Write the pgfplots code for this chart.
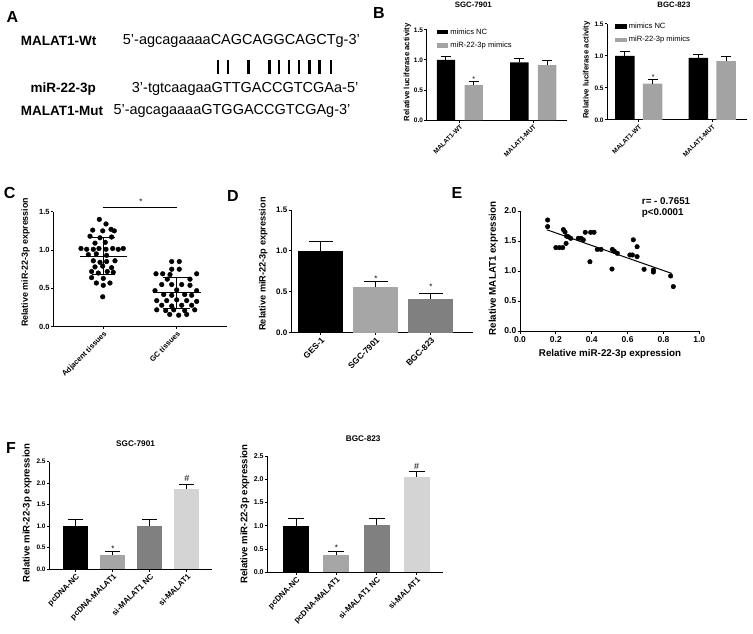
\documentclass[border=0pt]{standalone}
\usepackage{pgfplots}
\pgfplotsset{compat=1.18}
\usepackage{fontspec}
\setmainfont{Liberation Sans}
\newcommand{\fs}[1]{\fontsize{#1}{#1}\selectfont}
\definecolor{gA}{HTML}{A6A6A6}
\definecolor{gB}{HTML}{808080}
\definecolor{gC}{HTML}{D4D4D4}
\definecolor{gL}{HTML}{A3A3A3}
\pgfplotsset{
  every axis title shift=0pt,
  prism/.style={
    scale only axis, axis x line*=bottom, axis y line*=left,
    axis line style={-, line width=1pt, black},
    every tick/.style={black, line width=1pt}, tick align=outside,
    major tick length=2.5pt, ymin=0, clip=false,
    yticklabel style={inner sep=1pt},
  },
  ebar/.style={error bars/.cd, y dir=plus, y explicit,
    error bar style={draw=black, line width=1pt},
    error mark options={draw=black, line width=1pt, rotate=90, mark size=#1}},
}
\begin{document}
\begin{tikzpicture}
\useasboundingbox (0,0) rectangle (753pt,-634pt);
% ---------- panel letters ----------
\node[font=\bfseries\fs{16}] at (12.5pt,-16.7pt) {A};
\node[font=\bfseries\fs{16}] at (379pt,-12.5pt) {B};
\node[font=\bfseries\fs{16}] at (9.7pt,-193pt) {C};
\node[font=\bfseries\fs{16}] at (233pt,-196pt) {D};
\node[font=\bfseries\fs{16}] at (457pt,-193pt) {E};
\node[font=\bfseries\fs{16}] at (11pt,-447.5pt) {F};
% ---------- panel A ----------
\node[anchor=west, font=\bfseries\fs{13.5}, inner sep=0pt] at (20.7pt,-40.7pt) {MALAT1-Wt};
\node[anchor=west, font=\fs{14.5}, inner sep=0pt] at (122.7pt,-40.7pt) {5'-agcagaaaaCAGCAGGCAGCTg-3'};
\node[font=\bfseries\fs{13.5}, inner sep=0pt] at (63.3pt,-89.3pt) {miR-22-3p};
\node[anchor=west, font=\fs{14.5}, inner sep=0pt] at (131.7pt,-89.3pt) {3'-tgtcaagaaGTTGACCGTCGAa-5'};
\node[anchor=west, font=\bfseries\fs{13.5}, inner sep=0pt] at (20.7pt,-110.7pt) {MALAT1-Mut};
\node[anchor=west, font=\fs{14.5}, inner sep=0pt] at (113.3pt,-110.7pt) {5'-agcagaaaaGTGGACCGTCGAg-3'};
\foreach \bx in {217.7,227.7,248.3,269.3,279,289,299,309.3,319.3,331}{
  \draw[line width=2.4pt] (\bx pt,-60pt) -- (\bx pt,-74pt);
}
% ---------- panel B left ----------
\begin{axis}[prism, at={(426.7pt,-120pt)}, anchor=south west,
  width=140pt, height=90pt, xmin=0.549, xmax=2.456, ymax=1.5,
  ytick={0,0.5,1,1.5}, yticklabels={0.0,0.5,1.0,1.5},
  xtick={1,2}, xticklabels={MALAT1-WT,MALAT1-MUT},
  yticklabel style={font=\bfseries\fs{6.5}},
  xticklabel style={font=\bfseries\fs{6.5}, rotate=45, anchor=north east, inner sep=1pt},
  ylabel={Relative luciferase activity},
  ylabel style={font=\bfseries\fs{7.8}, at={(axis description cs:-0.139,0.53)}, anchor=center},
  title={SGC-7901}, title style={font=\bfseries\fs{7.8}, at={(axis description cs:0.333,1.278)}, anchor=center},
  legend style={at={(axis description cs:0.071,1.04)}, anchor=north west, draw=none, fill=none,
     font=\fs{7.6}, row sep=2.5pt, inner sep=0pt, legend cell align=left},
  legend image code/.code={\fill[#1] (0pt,-2.2pt) rectangle (11.6pt,2.2pt);},
]
\addplot[ybar, fill=black, draw=none, bar width=18.3pt, bar shift=0pt, ebar=5pt]
  coordinates {(0.811,1.00) +- (0,0.065) (1.811,0.96) +- (0,0.06)};
\addplot[ybar, fill=gL, draw=none, bar width=18.3pt, bar shift=0pt, ebar=5pt]
  coordinates {(1.189,0.58) +- (0,0.065) (2.189,0.915) +- (0,0.07)};
\legend{mimics NC, miR-22-3p mimics}
\node[font=\fs{7}] at (axis cs:1.189,0.68) {*};
\end{axis}
% ---------- panel B right ----------
\begin{axis}[prism, at={(607.3pt,-120pt)}, anchor=south west,
  width=139.4pt, height=96pt, xmin=0.571, xmax=2.47, ymax=1.5,
  ytick={0,0.5,1,1.5}, yticklabels={0.0,0.5,1.0,1.5},
  xtick={1,2}, xticklabels={MALAT1-WT,MALAT1-MUT},
  yticklabel style={font=\bfseries\fs{6.5}},
  xticklabel style={font=\bfseries\fs{6.5}, rotate=45, anchor=north east, inner sep=1pt},
  ylabel={Relative luciferase activity},
  ylabel style={font=\bfseries\fs{7.8}, at={(axis description cs:-0.148,0.52)}, anchor=center},
  title={BGC-823}, title style={font=\bfseries\fs{7.8}, at={(axis description cs:0.478,1.198)}, anchor=center},
  legend style={at={(axis description cs:0.055,1.034)}, anchor=north west, draw=none, fill=none,
     font=\fs{7.6}, row sep=2.5pt, inner sep=0pt, legend cell align=left},
  legend image code/.code={\fill[#1] (0pt,-2.2pt) rectangle (11.6pt,2.2pt);},
]
\addplot[ybar, fill=black, draw=none, bar width=19.5pt, bar shift=0pt, ebar=5pt]
  coordinates {(0.812,1.00) +- (0,0.07) (1.812,0.97) +- (0,0.055)};
\addplot[ybar, fill=gL, draw=none, bar width=19.5pt, bar shift=0pt, ebar=5pt]
  coordinates {(1.188,0.57) +- (0,0.055) (2.188,0.92) +- (0,0.07)};
\legend{mimics NC, miR-22-3p mimics}
\node[font=\fs{7}] at (axis cs:1.198,0.67) {*};
\end{axis}
% ---------- panel C ----------
\begin{axis}[prism, at={(53.3pt,-326.7pt)}, anchor=south west,
  width=173.4pt, height=115pt, xmin=0.319, xmax=2.681, ymax=1.5,
  ytick={0,0.5,1,1.5}, yticklabels={0.0,0.5,1.0,1.5},
  xtick={1,2}, xticklabels={Adjacent tissues,GC tissues},
  yticklabel style={font=\bfseries\fs{7.5}},
  xticklabel style={font=\bfseries\fs{7.5}, rotate=45, anchor=north east, inner sep=1pt},
  ylabel={Relative miR-22-3p expression},
  ylabel style={font=\bfseries\fs{8.9}, at={(axis description cs:-0.16,0.56)}, anchor=center},
]
\addplot[only marks, mark=*, mark size=2.35pt, black] table {
0.946 1.40
1.037 1.34
0.856 1.26
0.992 1.25
1.105 1.27
1.150 1.25
0.819 1.18
0.955 1.16
1.113 1.17
0.887 1.09
1.027 1.10
0.696 1.02
0.774 1.01
0.864 1.01
0.941 1.02
1.037 1.01
1.128 1.02
1.204 1.01
1.272 1.02
0.796 0.94
0.905 0.95
1.045 0.93
0.864 0.86
0.955 0.84
1.045 0.85
1.159 0.86
0.887 0.78
0.992 0.79
1.113 0.77
0.841 0.72
0.932 0.70
1.054 0.72
1.136 0.71
0.841 0.64
1.000 0.63
0.905 0.57
1.091 0.57
1.000 0.54
0.992 0.39
};
\addplot[only marks, mark=*, mark size=2.35pt, black] table {
1.932 0.85
2.035 0.85
1.932 0.75
2.035 0.75
1.718 0.69
1.809 0.69
1.909 0.68
2.272 0.69
1.872 0.62
2.181 0.62
1.796 0.55
1.932 0.55
2.068 0.55
2.181 0.54
1.704 0.47
2.000 0.48
2.272 0.47
1.823 0.42
1.932 0.41
2.109 0.42
2.204 0.41
1.728 0.34
1.864 0.34
2.000 0.35
2.136 0.34
2.272 0.33
1.796 0.28
1.932 0.27
2.068 0.28
2.204 0.28
1.728 0.22
1.850 0.21
1.959 0.22
2.109 0.21
2.245 0.22
1.905 0.16
2.027 0.15
2.136 0.16
};
\addplot[black, line width=1pt] coordinates {(0.682,0.92) (1.318,0.92)};
\addplot[black, line width=1pt] coordinates {(1,0.68) (1,1.16)};
\addplot[black, line width=1pt] coordinates {(0.842,1.16) (1.159,1.16)};
\addplot[black, line width=1pt] coordinates {(0.842,0.68) (1.159,0.68)};
\addplot[black, line width=1pt] coordinates {(1.673,0.44) (2.327,0.44)};
\addplot[black, line width=1pt] coordinates {(2,0.24) (2,0.64)};
\addplot[black, line width=1pt] coordinates {(1.81,0.64) (2.18,0.64)};
\addplot[black, line width=1pt] coordinates {(1.81,0.24) (2.18,0.24)};
\addplot[black, line width=1pt] coordinates {(0.99,1.557) (2.01,1.557)};
\node[font=\fs{8}] at (axis cs:1.514,1.63) {*};
\end{axis}
% ---------- panel D ----------
\begin{axis}[prism, at={(291pt,-332.7pt)}, anchor=south west,
  width=182.3pt, height=122.7pt, xmin=0.458, xmax=3.772, ymax=1.5,
  ytick={0,0.5,1,1.5}, yticklabels={0.0,0.5,1.0,1.5},
  xtick={1,2,3}, xticklabels={GES-1,SGC-7901,BGC-823},
  yticklabel style={font=\bfseries\fs{8}},
  xticklabel style={font=\bfseries\fs{8.5}, rotate=45, anchor=north east, inner sep=1pt},
  ylabel={Relative miR-22-3p expression},
  ylabel style={font=\bfseries\fs{9.2}, at={(axis description cs:-0.152,0.56)}, anchor=center},
]
\addplot[ybar, fill=black, draw=none, bar width=45pt, bar shift=0pt, ebar=12pt]
  coordinates {(1,1.00) +- (0,0.12)};
\addplot[ybar, fill=gA, draw=none, bar width=45pt, bar shift=0pt, ebar=12pt]
  coordinates {(2,0.555) +- (0,0.07)};
\addplot[ybar, fill=gB, draw=none, bar width=45pt, bar shift=0pt, ebar=12pt]
  coordinates {(3,0.41) +- (0,0.07)};
\node[font=\fs{8}] at (axis cs:2,0.66) {*};
\node[font=\fs{8}] at (axis cs:3,0.56) {*};
\end{axis}
% ---------- panel E ----------
\begin{axis}[prism, at={(520pt,-331pt)}, anchor=south west,
  width=179.3pt, height=120pt, xmin=0, xmax=1, ymax=2,
  ytick={0,0.5,1,1.5,2}, yticklabels={0.0,0.5,1.0,1.5,2.0},
  xtick={0,0.2,0.4,0.6,0.8,1}, xticklabels={0.0,0.2,0.4,0.6,0.8,1.0},
  yticklabel style={font=\bfseries\fs{8.5}},
  xticklabel style={font=\bfseries\fs{8.5}},
  ylabel={Relative MALAT1 expression},
  ylabel style={font=\bfseries\fs{9.8}, at={(axis description cs:-0.149,0.52)}, anchor=center},
  xlabel={Relative miR-22-3p expression},
  xlabel style={font=\bfseries\fs{9.8}, at={(axis description cs:0.502,-0.19)}, anchor=center},
]
\addplot[only marks, mark=*, mark size=2.3pt, black] table {
0.154 1.85
0.154 1.74
0.242 1.69
0.251 1.65
0.260 1.58
0.270 1.57
0.283 1.545
0.200 1.39
0.219 1.39
0.238 1.39
0.257 1.46
0.325 1.545
0.340 1.545
0.353 1.52
0.364 1.645
0.394 1.645
0.413 1.645
0.431 1.36
0.452 1.36
0.390 1.155
0.515 1.36
0.526 1.33
0.543 1.295
0.513 1.033
0.613 1.267
0.627 1.267
0.632 1.52
0.653 1.405
0.653 1.24
0.692 1.028
0.744 1.017
0.744 0.983
0.840 0.917
0.855 0.74
};
\addplot[black, line width=1pt] coordinates {(0.15,1.687) (0.846,0.96)};
\node[anchor=west, font=\bfseries\fs{9.8}, inner sep=0pt] at (axis cs:0.679,2.17) {r= - 0.7651};
\node[anchor=west, font=\bfseries\fs{9.8}, inner sep=0pt] at (axis cs:0.679,1.96) {p<0.0001};
\end{axis}
% ---------- panel F left ----------
\begin{axis}[prism, at={(49.3pt,-569pt)}, anchor=south west,
  width=162.4pt, height=107.3pt, xmin=0.284, xmax=4.67, ymax=2.5,
  ytick={0,0.5,1,1.5,2,2.5}, yticklabels={0.0,0.5,1.0,1.5,2.0,2.5},
  xtick={1,2,3,4}, xticklabels={pcDNA-NC,pcDNA-MALAT1,si-MALAT1 NC,si-MALAT1},
  yticklabel style={font=\bfseries\fs{6.5}},
  xticklabel style={font=\bfseries\fs{8}, rotate=45, anchor=north east, inner sep=1pt},
  ylabel={Relative miR-22-3p expression},
  ylabel style={font=\bfseries\fs{9.6}, at={(axis description cs:-0.137,0.52)}, anchor=center},
  title={SGC-7901}, title style={font=\bfseries\fs{8.2}, at={(axis description cs:0.531,1.164)}, anchor=center},
]
\addplot[ybar, fill=black, draw=none, bar width=25pt, bar shift=0pt, ebar=7.5pt]
  coordinates {(1,1.00) +- (0,0.155)};
\addplot[ybar, fill=gA, draw=none, bar width=25pt, bar shift=0pt, ebar=7.5pt]
  coordinates {(2,0.326) +- (0,0.075)};
\addplot[ybar, fill=gB, draw=none, bar width=25pt, bar shift=0pt, ebar=7.5pt]
  coordinates {(3,1.01) +- (0,0.147)};
\addplot[ybar, fill=gC, draw=none, bar width=25pt, bar shift=0pt, ebar=7.5pt]
  coordinates {(4,1.867) +- (0,0.093)};
\node[font=\fs{8}] at (axis cs:2,0.48) {*};
\node[font=\fs{9}] at (axis cs:4,2.12) {\#};
\end{axis}
% ---------- panel F right ----------
\begin{axis}[prism, at={(267.3pt,-572.3pt)}, anchor=south west,
  width=176pt, height=116.3pt, xmin=0.275, xmax=4.665, ymax=2.5,
  ytick={0,0.5,1,1.5,2,2.5}, yticklabels={0.0,0.5,1.0,1.5,2.0,2.5},
  xtick={1,2,3,4}, xticklabels={pcDNA-NC,pcDNA-MALAT1,si-MALAT1 NC,si-MALAT1},
  yticklabel style={font=\bfseries\fs{7}},
  xticklabel style={font=\bfseries\fs{8}, rotate=45, anchor=north east, inner sep=1pt},
  ylabel={Relative miR-22-3p expression},
  ylabel style={font=\bfseries\fs{9.6}, at={(axis description cs:-0.127,0.5)}, anchor=center},
  title={BGC-823}, title style={font=\bfseries\fs{8.2}, at={(axis description cs:0.545,1.152)}, anchor=center},
]
\addplot[ybar, fill=black, draw=none, bar width=26pt, bar shift=0pt, ebar=8pt]
  coordinates {(1,1.00) +- (0,0.15)};
\addplot[ybar, fill=gA, draw=none, bar width=26pt, bar shift=0pt, ebar=8pt]
  coordinates {(2,0.365) +- (0,0.08)};
\addplot[ybar, fill=gB, draw=none, bar width=26pt, bar shift=0pt, ebar=8pt]
  coordinates {(3,1.02) +- (0,0.13)};
\addplot[ybar, fill=gC, draw=none, bar width=26pt, bar shift=0pt, ebar=8pt]
  coordinates {(4,2.05) +- (0,0.11)};
\node[font=\fs{8}] at (axis cs:2,0.53) {*};
\node[font=\fs{9}] at (axis cs:4,2.28) {\#};
\end{axis}
\end{tikzpicture}
\end{document}
